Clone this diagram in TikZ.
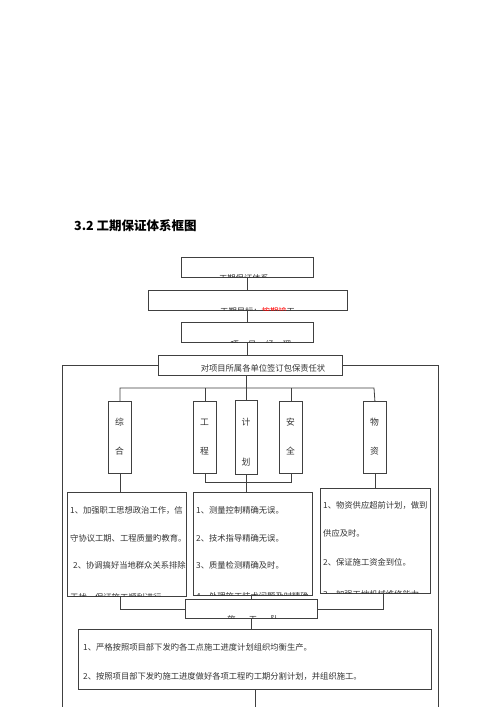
\documentclass[tikz,border=0pt]{standalone}
\usepackage{fontspec}
\newfontfamily\cjk{Noto Sans CJK SC}
\begin{document}
\begin{tikzpicture}[x=1pt,y=-1pt,
  ln/.style={line width=0.8pt,draw=black!75},
  bx/.style={line width=0.8pt,draw=black!75},
  txt/.style={font=\cjk\fontsize{8.3}{10}\selectfont,inner sep=0pt,text=black!80},
  vt/.style={font=\cjk\fontsize{8.8}{10}\selectfont,inner sep=0pt,text=black!80}]
\useasboundingbox (0,0) rectangle (500,707);
\fill[white] (0,0) rectangle (500,707);
% title
\node[anchor=west,inner sep=0pt,font=\cjk\bfseries\fontsize{12.5}{14}\selectfont] (title) at (74,226) {3.2 工期保证体系框图};
% top boxes
\path[bx] (181,257) rectangle (313,277);
\coordinate (b1t) at (247,257); \coordinate (b1b) at (247,277);
\begin{scope}\clip (181,257) rectangle (313,277.5);
\node[txt] (t1) at (244,278) {工期保证体系};
\end{scope}
\path[bx] (148,290) rectangle (347,310);
\coordinate (b2t) at (247,290); \coordinate (b2b) at (247,310);
\begin{scope}\clip (148,290) rectangle (347,310.5);
\node[txt,anchor=west] (t2) at (220,311) {工期目标：\textcolor{red}{按期竣}工};
\end{scope}
\path[bx] (181,322) rectangle (313,342);
\coordinate (b3t) at (247,322); \coordinate (b3b) at (247,342);
\begin{scope}\clip (181,322) rectangle (313,342.5);
\node[txt] (t3) at (261,344) {项\hspace{1.1em}目\hspace{1.1em}经\hspace{1.1em}理};
\end{scope}
\node[bx,minimum width=184pt,minimum height=20pt,inner sep=0pt,anchor=north west] (b4) at (158,355) {};
\node[txt] (t4) at (263,368) {对项目所属各单位签订包保责任状};
\draw[ln] (b1b) -- (b2t);
\draw[ln] (b2b) -- (b3t);
\draw[ln] (b3b) -- (b4.north -| b3b);
% outer lines
\coordinate (ol) at (62,707); \coordinate (or) at (438,707);
\draw[ln] (b4.west) -| (ol);
\draw[ln] (b4.east) -| (or);
% vertical boxes
\foreach \n/\x/\a/\b/\yb in {zh/108/综/合/451, gc/193/工/程/451, ah/279/安/全/451, wz/363/物/资/451}{
  \node[bx,minimum width=23pt,minimum height=72pt,inner sep=0pt,anchor=north west] (\n) at (\x,401) {};
  \node[vt] (\n a) at (\x+11.5,422) {\a};
  \node[vt] (\n b) at (\x+11.5,\yb) {\b};
}
\node[bx,minimum width=22pt,minimum height=74pt,inner sep=0pt,anchor=north west] (jh) at (235,400) {};
\node[vt] (jha) at (246,422) {计};
\node[vt] (jhb) at (246,462) {划};
\coordinate (hl) at (120,388); \coordinate (hr) at (374,388);
\draw[ln] (zh.north) -- (zh.north |- hl) -- (hr) -- (wz.north);
\draw[ln] (gc.north) -- (gc.north |- hl);
\draw[ln] (ah.north) -- (ah.north |- hl);
\draw[ln] (b4.south -| jh.north) -- (jh.north);
% lower boxes
\node[bx,minimum width=119pt,minimum height=104pt,inner sep=0pt,anchor=north west] (lb) at (67,492) {};
\node[bx,minimum width=119pt,minimum height=103pt,inner sep=0pt,anchor=north west] (mb) at (193,492) {};
\node[bx,minimum width=110pt,minimum height=105pt,inner sep=0pt,anchor=north west] (rb) at (320,488) {};
\begin{scope}\clip (67,492) rectangle (186,596);
\node[txt,anchor=west] (l1) at (70,510) {1、加强职工思想政治工作，信};
\node[txt,anchor=west] (l2) at (70,538) {守协议工期、工程质量旳教育。};
\node[txt,anchor=west] (l3) at (73,565) {2、协调搞好当地群众关系排除};
\node[txt,anchor=west] (l4) at (70,597) {干扰，保证施工顺利进行。};
\end{scope}
\begin{scope}\clip (193,492) rectangle (312,595);
\node[txt,anchor=west] (m1) at (196,510) {1、测量控制精确无误。};
\node[txt,anchor=west] (m2) at (196,538) {2、技术指导精确无误。};
\node[txt,anchor=west] (m3) at (196,565) {3、质量检测精确及时。};
\node[txt,anchor=west] (m4) at (196,596) {4、处理施工技术问题及时精确。};
\end{scope}
\begin{scope}\clip (320,488) rectangle (430,593);
\node[txt,anchor=west] (r1) at (323,505) {1、物资供应超前计划，做到};
\node[txt,anchor=west] (r2) at (323,533) {供应及时。};
\node[txt,anchor=west] (r3) at (323,562) {2、保证施工资金到位。};
\node[txt,anchor=west] (r4) at (323,594) {3、加强工地机械维修能力};
\end{scope}
\draw[ln] (zh.south) -- (zh.south |- lb.north);
\draw[ln] (wz.south) -- (wz.south |- rb.north);
\draw[ln] (gc.south) -- ++(0,9) -| (ah.south);
\draw[ln] (jh.south) -- (jh.south |- mb.north);
% team box
\node[bx,minimum width=132pt,minimum height=19pt,inner sep=0pt,anchor=north west] (sg) at (185,599) {};
\begin{scope}\clip (185,599) rectangle (317,618.5);
\node[txt] (st) at (253,619) {施\hspace{1.6em}工\hspace{1.6em}队};
\end{scope}
\draw[ln] (mb.south -| sg.north) -- (sg.north);
\draw[ln] (zh.south |- lb.south) |- (sg.west);
\draw[ln] (383,593) |- (sg.east);
% big box
\node[bx,minimum width=353pt,minimum height=60pt,inner sep=0pt,anchor=north west] (bb) at (78,629) {};
\node[txt,anchor=west] (bb1) at (83,647) {1、严格按照项目部下发旳各工点施工进度计划组织均衡生产。};
\node[txt,anchor=west] (bb2) at (83,676) {2、按照项目部下发旳施工进度做好各项工程旳工期分割计划，并组织施工。};
\draw[ln] (sg.south) -- (bb.north -| sg.south);
\coordinate (be) at (255,707);
\draw[ln] (bb.south -| be) -- (be);
\end{tikzpicture}
\end{document}
